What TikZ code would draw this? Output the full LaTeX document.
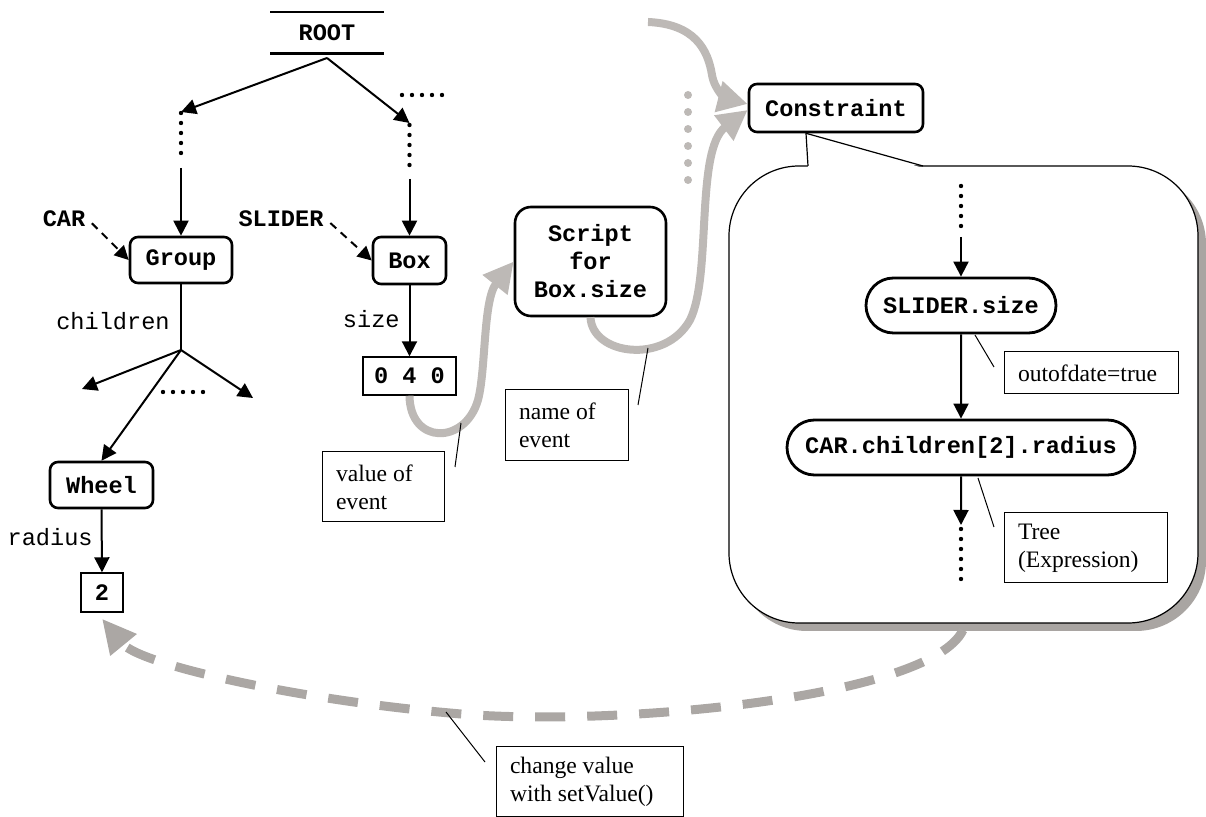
\documentclass[tikz,border=0pt]{standalone}
\usepackage{fontspec}
\setmainfont{Liberation Serif}
\setmonofont{Liberation Mono}
\definecolor{EventGray}{HTML}{BDB9B6}
\definecolor{ReturnGray}{HTML}{ABA7A4}
\definecolor{ShadowGray}{HTML}{A9A5A2}
\newcommand{\diagfont}{\fontsize{11.8}{14}\selectfont}
\usetikzlibrary{arrows.meta,shapes.misc,shadows}
\tikzset{
  rootNode/.style={align=center, inner sep=0pt, minimum width=56.5pt, minimum height=20.5pt, font=\diagfont\ttfamily\bfseries},
  rootBar/.style={line width=1.4pt},
  objNode/.style={draw, line width=1.3pt, rounded corners=4pt, fill=white, align=center, inner sep=2pt, font=\diagfont\ttfamily\bfseries},
  scriptNode/.style={draw, line width=1.3pt, rounded corners=8pt, fill=white, align=center, inner sep=2pt, font=\diagfont\ttfamily\bfseries},
  valNode/.style={draw, line width=0.7pt, fill=white, align=center, inner sep=2pt, font=\diagfont\ttfamily\bfseries},
  pillNode/.style={draw, line width=1.4pt, rounded rectangle, fill=white, align=center, inner sep=2pt, font=\diagfont\ttfamily\bfseries},
  nameLabel/.style={inner sep=1pt, font=\diagfont\ttfamily\bfseries},
  fieldLabel/.style={inner sep=1pt, font=\diagfont\ttfamily},
  noteNode/.style={draw, line width=0.5pt, fill=white, align=flush left, inner xsep=7pt, inner ysep=2pt, font=\diagfont\rmfamily},
  calloutNode/.style={draw, line width=0.6pt, rounded corners=35pt, fill=white,
    drop shadow={shadow xshift=4pt, shadow yshift=-4pt, fill=ShadowGray, opacity=1}},
  treeEdge/.style={-{Triangle[length=7.5pt,width=7.5pt]}, line width=1pt},
  plainLine/.style={line width=1pt},
  nameEdge/.style={-{Triangle[length=7pt,width=7pt]}, line width=1pt, dash pattern=on 4pt off 3pt},
  dotLine/.style={line width=2.2pt, line cap=round, dash pattern=on 0pt off 5pt},
  grayDots/.style={line width=4pt, line cap=round, dash pattern=on 0pt off 8.5pt, draw=EventGray},
  eventEdge/.style={-{Triangle[length=15pt,width=15pt]}, line width=4pt, draw=EventGray},
  setEdge/.style={-{Triangle[length=17pt,width=16pt]}, line width=4.5pt, draw=ReturnGray, dash pattern=on 15pt off 11pt},
  leaderLine/.style={line width=0.5pt}
}

\begin{document}
\begin{tikzpicture}[x=0.5pt,y=-0.5pt]
\useasboundingbox (0,0) rectangle (1206,817);

% scene graph
\node[rootNode] (root) at (327,33) {ROOT};
\draw[rootBar] (root.north west) -- (root.north east);
\draw[rootBar] (root.south west) -- (root.south east);
\coordinate (rootFoot) at (327,58);
\coordinate (leftTop) at (181,112);
\coordinate (rightTop) at (409.5,123);
\draw[treeEdge] (rootFoot) -- (leftTop);
\draw[treeEdge] (rootFoot) -- (rightTop);
\coordinate (moreA) at (402,95);
\coordinate (moreB) at (446,95);
\draw[dotLine] (moreA) -- (moreB);

\node[objNode, minimum width=51pt, minimum height=23pt] (group) at (181,260) {Group};
\node[objNode, minimum width=36.5pt, minimum height=23.5pt] (box) at (409.5,260.5) {Box};
\coordinate (leftDotsA) at (181,113);
\coordinate (leftDotsB) at (181,155);
\coordinate (groupIn) at (181,168);
\draw[dotLine] (leftDotsA) -- (leftDotsB);
\draw[treeEdge] (groupIn) -- (group.north);
\coordinate (rightDotsA) at (409.5,125);
\coordinate (rightDotsB) at (409.5,166);
\coordinate (boxIn) at (409.5,179);
\draw[dotLine] (rightDotsA) -- (rightDotsB);
\draw[treeEdge] (boxIn) -- (box.north);

\node[nameLabel] (car) at (64,219) {CAR};
\node[nameLabel] (slider) at (281,219) {SLIDER};
\draw[nameEdge, shorten <=3pt] (car.east) -- (group.west);
\draw[nameEdge, shorten <=3pt] (slider.east) -- (box.west);

% children of the group
\coordinate (kids) at (181,350);
\coordinate (kidA) at (82,389);
\coordinate (kidB) at (253,398);
\node[fieldLabel, anchor=east] (childrenLbl) at (172,321) {children};
\draw[plainLine] (group.south) -- (kids);
\draw[treeEdge] (kids) -- (kidA);
\draw[treeEdge] (kids) -- (kidB);
\coordinate (kidDotsA) at (163,392);
\coordinate (kidDotsB) at (208,392);
\draw[dotLine] (kidDotsA) -- (kidDotsB);

\node[objNode, minimum width=51.5pt, minimum height=23pt] (wheel) at (101.5,485) {Wheel};
\draw[treeEdge] (kids) -- (wheel.north);
\node[valNode, minimum width=21pt, minimum height=19.5pt] (two) at (102,592.5) {2};
\node[fieldLabel, anchor=east] (radiusLbl) at (95,537) {radius};
\draw[treeEdge] (wheel.south) -- (two.north);

\node[valNode, minimum width=46.5pt, minimum height=19pt] (sizeVal) at (409.5,376) {0 4 0};
\node[fieldLabel, anchor=east] (sizeLbl) at (402,319) {size};
\draw[treeEdge] (box.south) -- (sizeVal.north);

% events
\node[scriptNode, minimum width=75.5pt, minimum height=54.5pt] (script) at (590.5,261.5) {Script\\for\\Box.size};
\node[objNode, minimum width=87pt, minimum height=24pt] (constraint) at (836,108) {Constraint};

\draw[eventEdge] (sizeVal.south) .. controls (410,445) and (465,445) .. (478,400)
  .. controls (486,370) and (483,300) .. (script.west);
\draw[eventEdge] (script.south) .. controls (592,355) and (665,365) .. (690,320)
  .. controls (712,276) and (695,150) .. ([yshift=-1pt]constraint.west);
\coordinate (eventSrc) at (648,22);
\draw[eventEdge] (eventSrc) .. controls (695,24) and (708,50) .. (712,75)
  .. controls (715,92) and (728,99) .. ([yshift=2pt]constraint.west);
\coordinate (grayDotsA) at (688,95);
\coordinate (grayDotsB) at (688,180);
\draw[grayDots] (grayDotsA) -- (grayDotsB);

\node[noteNode, text width=47pt, minimum height=35pt] (valueNote) at (383,487) {value of\\event};
\coordinate (valueOn) at (461,423);
\coordinate (valueOff) at (455,467);
\draw[leaderLine] (valueOn) -- (valueOff);
\node[noteNode, text width=47.5pt, minimum height=35.5pt] (nameNote) at (566.5,425.5) {name of\\event};
\coordinate (nameOn) at (648,348);
\coordinate (nameOff) at (638,405);
\draw[leaderLine] (nameOn) -- (nameOff);

% constraint tree
\node[calloutNode, minimum width=234.5pt, minimum height=228.5pt] (callout) at (963.5,394.5) {};
\coordinate (calloutTip) at ([xshift=-15pt]constraint.south);
\coordinate (calloutL) at (808,166);
\coordinate (calloutR) at (923,166);
\fill[white] (calloutTip) -- ([yshift=-1pt]calloutL) -- ([yshift=-1pt]calloutR) -- cycle;
\draw[line width=0.6pt] (calloutL) -- (calloutTip) -- (calloutR);

\node[pillNode, minimum width=99pt, minimum height=27.5pt] (sliderSize) at (961,305.5) {SLIDER.size};
\node[pillNode, minimum width=178pt, minimum height=27.5pt] (carRadius) at (961,447.5) {CAR.children[2].radius};
\coordinate (innerDotsA) at (961,186);
\coordinate (innerDotsB) at (961,228);
\coordinate (innerIn) at (961,237);
\draw[dotLine] (innerDotsA) -- (innerDotsB);
\draw[treeEdge] (innerIn) -- (sliderSize.north);
\draw[treeEdge] (sliderSize) -- (carRadius);
\coordinate (treeOut) at (961,525);
\draw[treeEdge] (carRadius) -- (treeOut);
\coordinate (outDotsA) at (961,529);
\coordinate (outDotsB) at (961,580);
\draw[dotLine] (outDotsA) -- (outDotsB);

\node[noteNode, text width=73pt, minimum height=21pt] (outdatedNote) at (1091,373) {outofdate=true};
\coordinate (outdatedOn) at (975,335);
\coordinate (outdatedOff) at (994,367);
\draw[leaderLine] (outdatedOn) -- (outdatedOff);
\node[noteNode, text width=67.5pt, minimum height=35pt] (treeNote) at (1085.5,548) {Tree\\(Expression)};
\coordinate (treeOn) at (978,478);
\coordinate (treeOff) at (994,527);
\draw[leaderLine] (treeOn) -- (treeOff);

% setValue back to the wheel
\coordinate (setSrc) at (963,630);
\draw[setEdge] (setSrc) .. controls (930,700) and (600,728) .. (450,713)
  .. controls (300,700) and (140,665) .. ([yshift=-3pt]two.south);
\node[noteNode, text width=79.5pt, minimum height=35pt] (setNote) at (589.5,782) {change value\\with setValue()};
\coordinate (setOn) at (446,712);
\coordinate (setOff) at (485,762);
\draw[leaderLine] (setOn) -- (setOff);
\end{tikzpicture}
\end{document}
